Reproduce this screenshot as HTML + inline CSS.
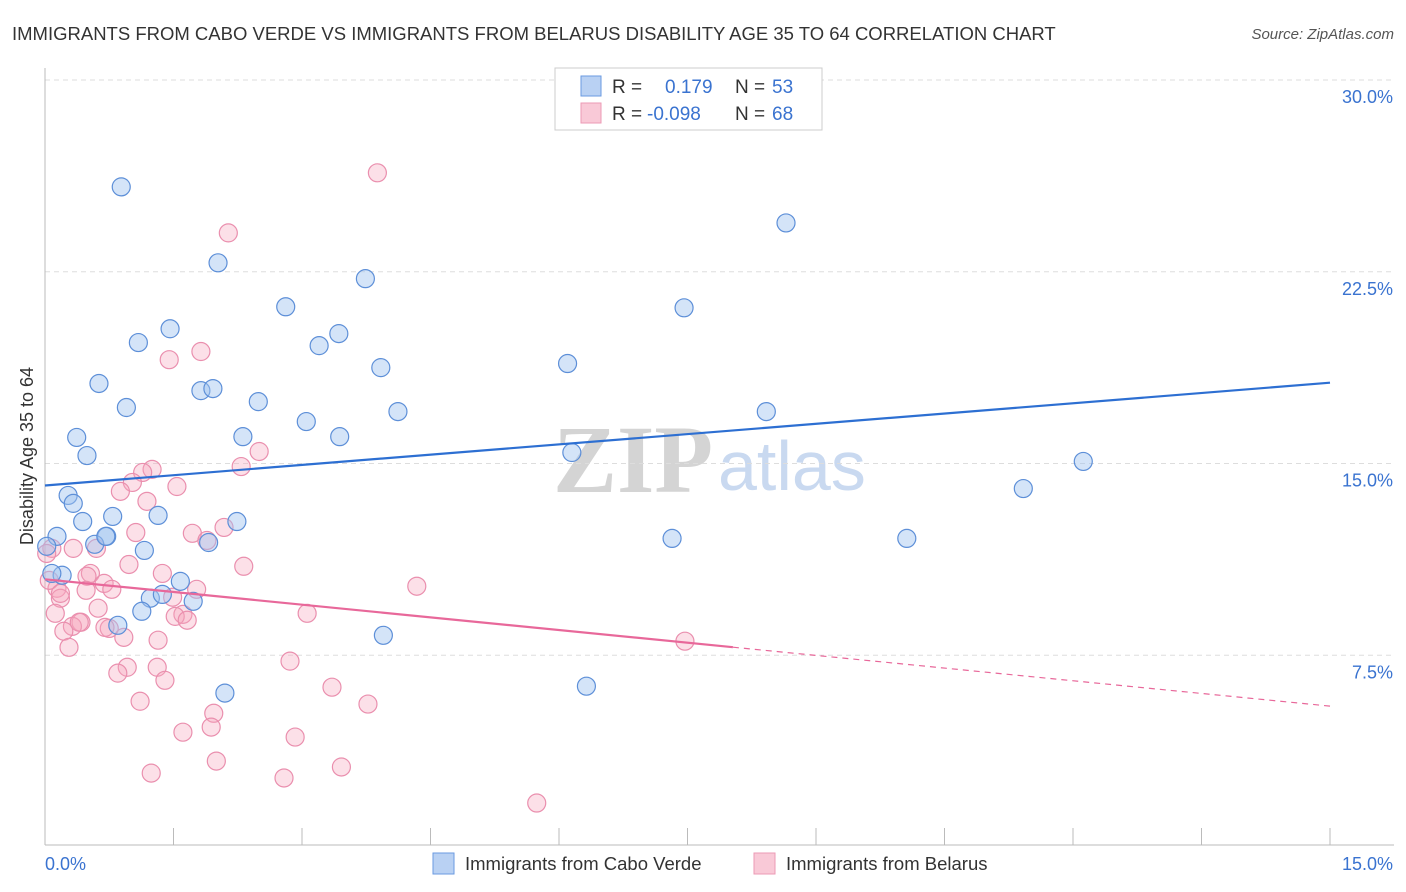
<!DOCTYPE html>
<html><head><meta charset="utf-8"><style>
body{margin:0;background:#fff;font-family:"Liberation Sans",sans-serif;}
</style></head><body>
<svg id="chart" width="1406" height="892" xmlns="http://www.w3.org/2000/svg" style="display:block">
<text x="12" y="40" font-size="18.5" fill="#333">IMMIGRANTS FROM CABO VERDE VS IMMIGRANTS FROM BELARUS DISABILITY AGE 35 TO 64 CORRELATION CHART</text>
<text x="1394" y="39" font-size="15" fill="#555" font-style="italic" text-anchor="end">Source: ZipAtlas.com</text>
<text x="553" y="492" font-size="96" fill="#d4d4d4" font-family="Liberation Serif,serif" font-weight="bold">ZIP</text>
<text x="718" y="490" font-size="70" fill="#c9d9f0">atlas</text>
<g id="grid"></g>
<g id="axes"></g>
<g id="pts"></g>
<g id="trend"></g>
<text transform="translate(33,456) rotate(-90)" font-size="18" fill="#333" text-anchor="middle">Disability Age 35 to 64</text>
<g>
<rect x="555" y="68" width="267" height="62" fill="#fff" stroke="#ccc"/>
<rect x="581" y="76" width="20" height="20" fill="#b9d1f3" stroke="#6a9ae0"/>
<rect x="581" y="103" width="20" height="20" fill="#f9c9d7" stroke="#ec9ab4"/>
<text x="612" y="93" font-size="19" fill="#333">R =</text><text x="665" y="93" font-size="19" fill="#3a73d0">0.179</text>
<text x="735" y="93" font-size="19" fill="#333">N =</text><text x="772" y="93" font-size="19" fill="#3a73d0">53</text>
<text x="612" y="120" font-size="19" fill="#333">R =</text><text x="647" y="120" font-size="19" fill="#3a73d0">-0.098</text>
<text x="735" y="120" font-size="19" fill="#333">N =</text><text x="772" y="120" font-size="19" fill="#3a73d0">68</text>
</g>
<g>
<rect x="433" y="853" width="21" height="21" fill="#b9d1f3" stroke="#6a9ae0"/>
<text x="465" y="870" font-size="18.5" fill="#333">Immigrants from Cabo Verde</text>
<rect x="754" y="853" width="21" height="21" fill="#f9c9d7" stroke="#ec9ab4"/>
<text x="786" y="870" font-size="18.5" fill="#333">Immigrants from Belarus</text>
</g>
</svg>
<script>
const yTicks=[7.5,15,22.5,30];
const yTickLabels=["7.5%","15.0%","22.5%","30.0%"];
const xMin=0,xMax=15,yMin=0,yMax=30;
const caboX=[0.89,2.02,3.74,2.81,1.46,1.09,3.20,3.43,0.63,1.82,1.96,0.95,2.49,3.92,4.12,3.05,0.37,2.31,3.44,0.49,0.27,0.33,0.44,0.79,1.32,2.24,0.14,0.72,0.58,1.16,1.91,0.02,0.20,1.58,1.23,1.37,1.73,1.13,0.85,3.95,2.10,6.10,6.15,7.46,8.65,8.42,12.12,11.42,7.32,10.06,6.32,0.08,0.71];
const caboY=[25.82,22.85,22.23,21.13,20.27,19.73,19.61,20.08,18.13,17.85,17.93,17.19,17.42,18.75,17.03,16.64,16.02,16.05,16.05,15.31,13.75,13.44,12.73,12.93,12.97,12.73,12.15,12.15,11.84,11.60,11.91,11.76,10.63,10.39,9.73,9.88,9.61,9.22,8.67,8.28,6.02,18.91,15.43,21.09,24.41,17.03,15.08,14.02,12.07,12.07,6.29,10.70,12.15];
const belX=[3.88,2.14,1.45,1.82,2.50,2.29,1.25,1.14,1.54,1.02,0.88,1.19,1.06,1.72,2.09,1.89,0.60,0.33,0.08,0.02,2.32,0.98,1.37,0.53,0.49,0.69,0.14,0.78,0.18,0.48,1.77,1.49,1.61,1.52,1.66,3.06,0.62,4.34,0.12,0.42,0.32,0.75,0.22,0.70,0.92,1.32,0.28,7.47,2.86,0.96,0.85,1.31,1.40,3.35,1.11,3.77,1.97,1.94,1.61,2.92,2.00,3.46,1.24,2.79,5.74,0.40,0.05,0.18];
const belY=[26.37,24.02,19.06,19.38,15.47,14.88,14.77,14.65,14.10,14.26,13.91,13.52,12.30,12.27,12.50,11.99,11.68,11.68,11.68,11.48,10.98,11.05,10.70,10.70,10.59,10.31,10.12,10.08,9.73,10.04,10.08,9.77,9.10,9.02,8.87,9.14,9.34,10.20,9.14,8.79,8.63,8.55,8.44,8.59,8.20,8.09,7.81,8.05,7.27,7.03,6.80,7.03,6.52,6.25,5.70,5.59,5.23,4.69,4.49,4.30,3.36,3.13,2.89,2.70,1.72,8.79,10.43,9.92];
const caboTrend=[14.14,18.16];
const belTrend=[10.47,5.51];
const belSolidEnd=8.03;
const L=45,R=1330,T=80,B=847;
const sx=v=>L+(v-xMin)/(xMax-xMin)*(R-L);
const sy=v=>B-(v-yMin)/(yMax-yMin)*(B-T);
const NS="http://www.w3.org/2000/svg";
function mk(tag,attrs,parent){const e=document.createElementNS(NS,tag);for(const k in attrs)e.setAttribute(k,attrs[k]);parent.appendChild(e);return e;}
const grid=document.getElementById('grid'),axes=document.getElementById('axes'),pts=document.getElementById('pts'),trend=document.getElementById('trend');
yTicks.forEach((t,i)=>{
 const g=mk('line',{x1:L,x2:1394,y1:sy(t),y2:sy(t),stroke:'#ddd','stroke-dasharray':'5,4'},grid);
 
 
 const tx=mk('text',{x:1393,y:sy(t)+23,'font-size':18,fill:'#3a73d0','text-anchor':'end'},axes);
 tx.textContent=yTickLabels[i];
 
 
});
const al=mk('line',{x1:L,x2:L,y1:68,y2:845,stroke:'#bbb'},axes);


const bl=mk('line',{x1:L,x2:1394,y1:845,y2:845,stroke:'#bbb'},axes);


for(let i=0;i<=10;i++){const v=xMin+i*(xMax-xMin)/10;
 const tk=mk('line',{x1:sx(v),x2:sx(v),y1:828,y2:845,stroke:'#bbb'},axes);
 
 }
const x0=mk('text',{x:45,y:870,'font-size':18,fill:'#3a73d0'},axes);x0.textContent="0.0%";


const x1=mk('text',{x:1393,y:870,'font-size':18,fill:'#3a73d0','text-anchor':'end'},axes);x1.textContent="15.0%";


belX.forEach((x,i)=>{const c=mk('circle',{cx:sx(x),cy:sy(belY[i]),r:9,fill:'rgba(245,165,190,0.35)',stroke:'#ea8fae','stroke-width':1.2},pts);
 
 });
caboX.forEach((x,i)=>{const c=mk('circle',{cx:sx(x),cy:sy(caboY[i]),r:9,fill:'rgba(160,195,240,0.45)',stroke:'#5d8fd8','stroke-width':1.2},pts);
 
 });
const bt=mk('line',{x1:sx(0),y1:sy(caboTrend[0]),x2:sx(15),y2:sy(caboTrend[1]),stroke:'#2d6fd2','stroke-width':2.2},trend);


const pe=belTrend[0]+(belTrend[1]-belTrend[0])*belSolidEnd/15;
const pt1=mk('line',{x1:sx(0),y1:sy(belTrend[0]),x2:sx(belSolidEnd),y2:sy(pe),stroke:'#e8689a','stroke-width':2.2},trend);


const pt2=mk('line',{x1:sx(belSolidEnd),y1:sy(pe),x2:sx(15),y2:sy(belTrend[1]),stroke:'#e8689a','stroke-width':1.2,'stroke-dasharray':'6,5'},trend);


</script>
</body></html>
